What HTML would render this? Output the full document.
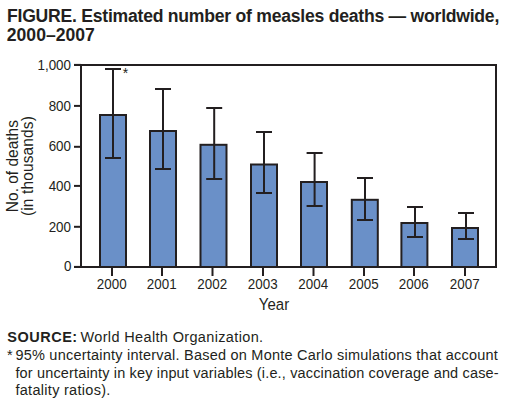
<!DOCTYPE html>
<html><head><meta charset="utf-8"><style>
html,body{margin:0;padding:0;background:#fff;}
body{width:509px;height:413px;overflow:hidden;}
svg{display:block;font-family:"Liberation Sans",sans-serif;}
text{fill:#231f20;}
</style></head><body>
<svg width="509" height="413" viewBox="0 0 509 413">
<rect x="100.00" y="115.00" width="26" height="152.00" fill="#6a90c8" stroke="#231f20" stroke-width="2"/><path d="M113.00 69.00V158.00M105.00 69.00H121.00M105.00 158.00H121.00" fill="none" stroke="#231f20" stroke-width="2"/><path d="M112.00 267V276" stroke="#231f20" stroke-width="2"/><rect x="150.00" y="131.00" width="26" height="136.00" fill="#6a90c8" stroke="#231f20" stroke-width="2"/><path d="M163.00 89.00V169.00M155.00 89.00H171.00M155.00 169.00H171.00" fill="none" stroke="#231f20" stroke-width="2"/><path d="M162.00 267V276" stroke="#231f20" stroke-width="2"/><rect x="200.50" y="144.80" width="26" height="122.20" fill="#6a90c8" stroke="#231f20" stroke-width="2"/><path d="M214.20 108.00V179.00M206.20 108.00H222.20M206.20 179.00H222.20" fill="none" stroke="#231f20" stroke-width="2"/><path d="M212.50 267V276" stroke="#231f20" stroke-width="2"/><rect x="251.00" y="164.50" width="26" height="102.50" fill="#6a90c8" stroke="#231f20" stroke-width="2"/><path d="M264.00 132.00V193.00M256.00 132.00H272.00M256.00 193.00H272.00" fill="none" stroke="#231f20" stroke-width="2"/><path d="M263.00 267V276" stroke="#231f20" stroke-width="2"/><rect x="301.00" y="182.00" width="26" height="85.00" fill="#6a90c8" stroke="#231f20" stroke-width="2"/><path d="M314.60 153.00V206.00M306.60 153.00H322.60M306.60 206.00H322.60" fill="none" stroke="#231f20" stroke-width="2"/><path d="M313.50 267V276" stroke="#231f20" stroke-width="2"/><rect x="351.80" y="199.80" width="26" height="67.20" fill="#6a90c8" stroke="#231f20" stroke-width="2"/><path d="M365.00 178.00V220.00M357.00 178.00H373.00M357.00 220.00H373.00" fill="none" stroke="#231f20" stroke-width="2"/><path d="M364.00 267V276" stroke="#231f20" stroke-width="2"/><rect x="401.40" y="223.00" width="26" height="44.00" fill="#6a90c8" stroke="#231f20" stroke-width="2"/><path d="M415.00 207.00V237.00M407.00 207.00H423.00M407.00 237.00H423.00" fill="none" stroke="#231f20" stroke-width="2"/><path d="M414.00 267V276" stroke="#231f20" stroke-width="2"/><rect x="452.00" y="228.00" width="26" height="39.00" fill="#6a90c8" stroke="#231f20" stroke-width="2"/><path d="M466.00 213.00V239.00M458.00 213.00H474.00M458.00 239.00H474.00" fill="none" stroke="#231f20" stroke-width="2"/><path d="M465.00 267V276" stroke="#231f20" stroke-width="2"/><path d="M74 65H496V267H74M81 65V267" fill="none" stroke="#231f20" stroke-width="2"/><path d="M74 266.90H81" stroke="#231f20" stroke-width="2"/><path d="M74 226.80H81" stroke="#231f20" stroke-width="2"/><path d="M74 185.90H81" stroke="#231f20" stroke-width="2"/><path d="M74 146.80H81" stroke="#231f20" stroke-width="2"/><path d="M74 105.90H81" stroke="#231f20" stroke-width="2"/><path d="M74 64.90H81" stroke="#231f20" stroke-width="2"/>
<text x="7" y="21.7" font-size="17.6" font-weight="bold" textLength="492.3" lengthAdjust="spacing">FIGURE. Estimated number of measles deaths — worldwide,</text><text x="6.8" y="40.8" font-size="17.6" font-weight="bold" textLength="88" lengthAdjust="spacing">2000–2007</text><text x="122.8" y="77.8" font-size="14">*</text><text transform="translate(274 309.7) scale(1 1.1)" font-size="15" text-anchor="middle">Year</text><text transform="translate(7.3 342.3) scale(1 1.06)" font-size="14.5" font-weight="bold" textLength="69.9" lengthAdjust="spacing">SOURCE:</text><text transform="translate(80.5 342.3) scale(1 1.06)" font-size="14.5" textLength="182.6" lengthAdjust="spacing">World Health Organization.</text><text transform="translate(7 359.5) scale(1 1.06)" font-size="14.5">*</text><text transform="translate(15.4 359.5) scale(1 1.06)" font-size="14.5" textLength="482.4" lengthAdjust="spacing">95% uncertainty interval. Based on Monte Carlo simulations that account</text><text transform="translate(15.4 378.0) scale(1 1.06)" font-size="14.5" textLength="483.2" lengthAdjust="spacing">for uncertainty in key input variables (i.e., vaccination coverage and case-</text><text transform="translate(15.4 394.7) scale(1 1.06)" font-size="14.5" textLength="95" lengthAdjust="spacing">fatality ratios).</text><text transform="translate(71.4 270.9) scale(1 1.06)" font-size="13.4" text-anchor="end">0</text><text transform="translate(71 231.8) scale(1 1.06)" font-size="13.4" text-anchor="end">200</text><text transform="translate(71 190.7) scale(1 1.06)" font-size="13.4" text-anchor="end">400</text><text transform="translate(71 150.7) scale(1 1.06)" font-size="13.4" text-anchor="end">600</text><text transform="translate(71 110.5) scale(1 1.06)" font-size="13.4" text-anchor="end">800</text><text transform="translate(71 69.7) scale(1 1.06)" font-size="13.4" text-anchor="end">1,000</text><text transform="translate(111.7 289.1) scale(1 1.07)" font-size="13.4" text-anchor="middle">2000</text><text transform="translate(161.7 289.1) scale(1 1.07)" font-size="13.4" text-anchor="middle">2001</text><text transform="translate(212.2 289.1) scale(1 1.07)" font-size="13.4" text-anchor="middle">2002</text><text transform="translate(262.7 289.1) scale(1 1.07)" font-size="13.4" text-anchor="middle">2003</text><text transform="translate(313.2 289.1) scale(1 1.07)" font-size="13.4" text-anchor="middle">2004</text><text transform="translate(363.7 289.1) scale(1 1.07)" font-size="13.4" text-anchor="middle">2005</text><text transform="translate(413.7 289.1) scale(1 1.07)" font-size="13.4" text-anchor="middle">2006</text><text transform="translate(464.7 289.1) scale(1 1.07)" font-size="13.4" text-anchor="middle">2007</text>
<g transform="translate(0 166.1) rotate(-90)"><text transform="translate(0 18) scale(1 1.035)" font-size="15.5" text-anchor="middle">No. of deaths</text><text transform="translate(0 32.6) scale(1 1.035)" font-size="15.5" text-anchor="middle" textLength="99.9" lengthAdjust="spacing">(in thousands)</text></g>
</svg>
</body></html>
